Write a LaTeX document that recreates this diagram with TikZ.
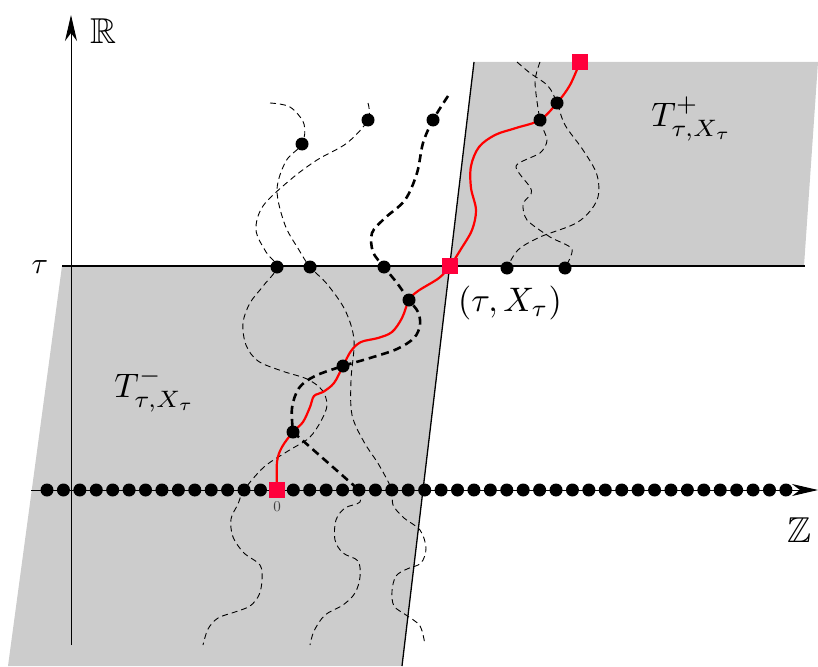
\documentclass[tikz,border=0pt]{standalone}
\usepackage{amssymb}
\usepackage{graphicx}
\usetikzlibrary{arrows.meta}
\definecolor{regiongray}{RGB}{204,204,204}
\definecolor{sqred}{RGB}{255,0,60}
\definecolor{pathred}{RGB}{255,0,0}
\pgfdeclarelayer{bg}
\pgfdeclarelayer{mid}
\pgfsetlayers{bg,mid,main}
\begin{document}
\begin{tikzpicture}[x=1pt,y=-1pt,
  dot/.style={circle,fill=black,inner sep=0pt,minimum size=13pt},
  redsq/.style={rectangle,fill=sqred,inner sep=0pt,minimum size=16pt},
  thindash/.style={line width=0.9pt,dash pattern=on 6pt off 4pt},
  thickdash/.style={line width=2.6pt,dash pattern=on 8pt off 5pt},
  redpath/.style={line width=2.2pt,draw=pathred},
  edgeline/.style={line width=1.3pt,draw=black},
  axisline/.style={line width=1pt,draw=black,-{Stealth[length=26pt,width=12pt,inset=8pt]}},
  lbl/.style={inner sep=0pt}]
\useasboundingbox (0,0) rectangle (818,666);

% ---------- dots and squares ----------
\foreach \k in {0,...,45}{
  \ifnum\k=14\relax\else
    \node[dot] (z\k) at ({47+16.42*\k},490) {};
  \fi
}
\node[redsq] (o) at (277,490) {};
\node[redsq] (tX) at (450,266) {};
\node[redsq] (top) at (580,62) {};
\node[dot] (d1) at (302,144) {};
\node[dot] (d2) at (368,120) {};
\node[dot] (d3) at (433,120) {};
\node[dot] (t1) at (277,267) {};
\node[dot] (t2) at (310,267) {};
\node[dot] (t3) at (384,267) {};
\node[dot] (t4) at (507,268) {};
\node[dot] (t5) at (565,268) {};
\node[dot] (u1) at (540,120) {};
\node[dot] (u2) at (557,103) {};
\node[dot] (m1) at (409,300) {};
\node[dot] (m2) at (343,366) {};
\node[dot] (m3) at (293,432) {};

% free ends
\coordinate (aS) at (270,103);
\coordinate (aE) at (425,645);
\coordinate (bS) at (368,103);
\coordinate (bE) at (203,645);
\coordinate (cS) at (448,96);
\coordinate (cE) at (310,645);
\coordinate (dS) at (517,62);
\coordinate (eS) at (540,62);
\coordinate (vB) at (71,645);
\coordinate (vT) at (71,15);
\coordinate (hL) at (31,490);
\coordinate (hR) at (818,490);
\coordinate (tauL) at (62,266);
\coordinate (tauR) at (805,266);
\coordinate (sT) at (474,62);
\coordinate (sB) at (402,666);

% ---------- regions ----------
\begin{pgfonlayer}{bg}
  \fill[regiongray] (62,266) -- (450,266) -- (402,666) -- (8,666) -- cycle;
  \fill[regiongray] (474,62) -- (818,62) -- (804,266) -- (450,266) -- cycle;
\end{pgfonlayer}

\begin{pgfonlayer}{mid}
  % axes
  \draw[axisline] (vB) -- (vT);
  \draw[axisline] (hL) -- (hR);
  % tau line and slanted line
  \draw[edgeline] (tauL) -- (tauR);
  \draw[edgeline] (sT) -- (sB);

  % path A (thin)
  \draw[thindash] plot[smooth,tension=0.55] coordinates {(aS) (290,107) (304,124) (d1.center) (286,161) (277,190) (285,225) (299,250) (t2.center) (327,284) (345,310) (354,340) (351,380) (352,415) (364,442) (379,465) (z21.center) (393,505) (404,518) (420,530) (426,548) (421,563) (407,569) (396,576) (392,591) (394,606) (406,615) (420,626) (aE)};
  % path B (thin)
  \draw[thindash] plot[smooth,tension=0.55] coordinates {(bS) (d2.center) (347,143) (317,160) (290,180) (263,206) (256,230) (266,252) (t1.center) (264,285) (250,303) (243,323) (246,345) (258,361) (282,371) (307,379) (322,390) (327,405) (321,421) (309,438) (288,451) (264,467) (z12.center) (238,504) (231,519) (233,537) (244,553) (260,565) (262,580) (259,595) (250,606) (235,612) (218,618) (208,629) (bE)};
  % path C (thick)
  \draw[thickdash] plot[smooth,tension=0.55] coordinates {(cS) (d3.center) (423,143) (417,173) (405,200) (385,218) (372,233) (373,252) (t3.center) (397,283) (m1.center) (418,312) (420,325) (414,338) (397,349) (370,358) (m2.center) (315,376) (299,388) (292,408) (m3.center)};
  \draw[thickdash] (m3.center) -- (z19.center);
  % path C lower (thin)
  \draw[thindash] plot[smooth,tension=0.55] coordinates {(z19.center) (360,502) (345,508) (336,520) (335,540) (343,553) (358,561) (360,577) (355,593) (343,605) (325,615) (314,631) (cE)};
  % path D (thin)
  \draw[thindash] plot[smooth,tension=0.55] coordinates {(dS) (530,73) (548,86) (u2.center) (565,125) (583,150) (597,175) (597,200) (578,222) (540,237) (518,250) (t4.center)};
  % path E (thin)
  \draw[thindash] plot[smooth,tension=0.45] coordinates {(eS) (535,82) (u1.center) (547,140) (540,153) (516,166) (530,187) (531,194) (523,204) (527,220) (550,237) (572,249) (t5.center)};

  % red path
  \draw[redpath] plot[smooth,tension=0.55] coordinates {(o.center) (277,462) (282,447) (m3.center) (303,422) (310,407) (314,396) (323,392) (334,383) (m2.center) (351,351) (361,342) (378,338) (392,332) (402,318) (m1.center) (418,291) (439,278) (tX.center) (461,249) (472,230) (476,210) (471,188) (471,166) (479,147) (495,135) (516,128) (u1.center) (u2.center) (570,85) (top.center)};
\end{pgfonlayer}

% ---------- labels ----------
\node[lbl] (Rlab) at (103,31) {\scalebox{3.6}{$\mathbb{R}$}};
\node[lbl] (Zlab) at (799,530) {\scalebox{3.6}{$\mathbb{Z}$}};
\node[lbl] (taulab) at (40,267) {\scalebox{3.0}{$\tau$}};
\node[lbl] (Tplus) at (692,119) {\scalebox{3.4}{$T^{+}_{\tau,X_\tau}$}};
\node[lbl] (Tminus) at (155,390) {\scalebox{3.4}{$T^{-}_{\tau,X_\tau}$}};
\node[lbl] (txlab) at (510,303) {\scalebox{3.4}{$(\tau,X_\tau)$}};
\node[lbl,text=black!75] (zero) at (277,507) {\scalebox{1.5}{$0$}};
\end{tikzpicture}
\end{document}
